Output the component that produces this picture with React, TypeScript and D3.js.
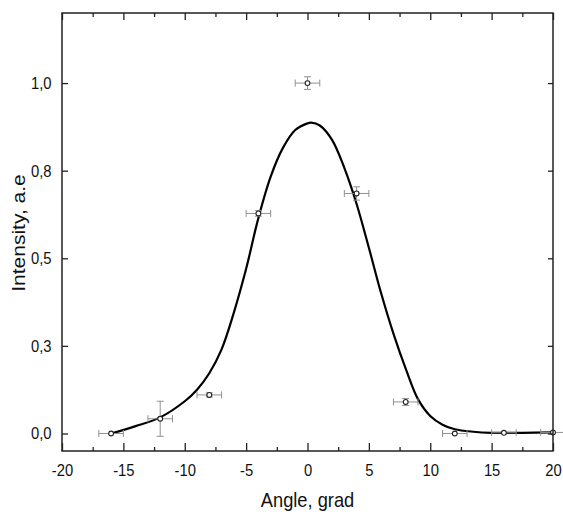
import React, { useRef, useEffect } from "react";
import * as d3 from "d3";

// measured points
const angle = [-16, -12, -8, -4, 0, 4, 8, 12, 16, 20];
const intensity = [0.0, 0.042, 0.11, 0.628, 1.0, 0.685, 0.09, 0.0, 0.002, 0.003];
const angleErr = [1, 1, 1, 1, 1, 1, 1, 1, 1, 1];
const intensityErr = [0, 0.05, 0.006, 0.008, 0.018, 0.019, 0.01, 0, 0, 0];

// fitted curve
const fitAngle = [-16, -14, -12, -10, -9, -8, -7, -6, -5, -4, -3, -2, -1, 0, 0.3, 1, 2, 3, 4, 5, 6, 7, 8, 9, 10, 11, 12, 13.5, 15, 17.5, 20];
const fitIntensity = [0, 0.021, 0.046, 0.092, 0.125, 0.172, 0.24, 0.345, 0.47, 0.615, 0.733, 0.815, 0.866, 0.885, 0.887, 0.879, 0.838, 0.758, 0.655, 0.53, 0.4, 0.285, 0.185, 0.098, 0.05, 0.025, 0.012, 0.005, 0.002, 0.002, 0.003];

const xTicks = [-20, -15, -10, -5, 0, 5, 10, 15, 20];
const xMinor = [-17.5, -12.5, -7.5, -2.5, 2.5, 7.5, 12.5, 17.5];
const yTicks = [0, 0.25, 0.5, 0.75, 1.0];

const W = 563;
const H = 515;
const FONT = "'Liberation Sans', Arial, sans-serif";
const SQ = 0.87; // glyphs in the original look a bit narrow

const Chart = () => {
  const ref = useRef<SVGSVGElement>(null);

  useEffect(() => {
    const svg = d3.select(ref.current);
    svg.selectAll("*").remove();

    const margin = { top: 13, right: 10, bottom: 64, left: 62 };
    const innerWidth = W - margin.left - margin.right;
    const innerHeight = H - margin.top - margin.bottom;

    const x = d3.scaleLinear().domain([-20, 20]).range([0, innerWidth]);
    const y = d3.scaleLinear().domain([-0.05, 1.2]).range([innerHeight, 0]);
    const fmt = (d: number) => d.toFixed(1).replace(".", ",");

    const g = svg.append("g").attr("transform", `translate(${margin.left},${margin.top})`);

    // curve
    const fit = fitAngle.map((a, i) => [a, fitIntensity[i]] as [number, number]);
    const line = d3
      .line<[number, number]>()
      .x((d) => x(d[0]))
      .y((d) => y(d[1]))
      .curve(d3.curveCatmullRom.alpha(0.5));
    g.append("path")
      .datum(fit)
      .attr("d", line)
      .attr("fill", "none")
      .attr("stroke", "#000")
      .attr("stroke-width", 2.2);

    // error bars
    const pts = angle.map((a, i) => ({ a, v: intensity[i], ea: angleErr[i], ev: intensityErr[i] }));
    const err = g.append("g").attr("stroke", "#909090").attr("stroke-width", 1).attr("fill", "none");
    pts.forEach((p) => {
      const cx = x(p.a), cy = y(p.v);
      const x0 = x(p.a - p.ea), x1 = x(p.a + p.ea);
      err.append("line").attr("x1", x0).attr("x2", x1).attr("y1", cy).attr("y2", cy);
      err.append("line").attr("x1", x0).attr("x2", x0).attr("y1", cy - 3.5).attr("y2", cy + 3.5);
      err.append("line").attr("x1", x1).attr("x2", x1).attr("y1", cy - 3.5).attr("y2", cy + 3.5);
      if (p.ev > 0) {
        const y0 = y(p.v - p.ev), y1 = y(p.v + p.ev);
        err.append("line").attr("x1", cx).attr("x2", cx).attr("y1", y0).attr("y2", y1);
        err.append("line").attr("x1", cx - 3.5).attr("x2", cx + 3.5).attr("y1", y0).attr("y2", y0);
        err.append("line").attr("x1", cx - 3.5).attr("x2", cx + 3.5).attr("y1", y1).attr("y2", y1);
      }
    });

    g.selectAll(".pt")
      .data(pts)
      .enter()
      .append("circle")
      .attr("class", "pt")
      .attr("cx", (d) => x(d.a))
      .attr("cy", (d) => y(d.v))
      .attr("r", 2.4)
      .attr("fill", "#fff")
      .attr("stroke", "#222")
      .attr("stroke-width", 1.1);

    // axes, ticks point inward
    const styleAxis = (sel: any) => {
      sel.select(".domain").remove();
      sel.selectAll("line").attr("stroke", "#222").attr("stroke-width", 1.3);
      sel.selectAll("text")
        .attr("font-family", FONT)
        .attr("font-size", 17)
        .attr("fill", "#111");
    };

    const bottom = g.append("g").attr("transform", `translate(0,${innerHeight})`)
      .call(d3.axisBottom(x).tickValues(xTicks).tickSize(-8).tickPadding(13).tickFormat((d: any) => String(d)));
    styleAxis(bottom);
    bottom.selectAll("text").attr("transform", `scale(${SQ},1)`);
    g.append("g").attr("transform", `translate(0,${innerHeight})`)
      .call(d3.axisBottom(x).tickValues(xMinor).tickSize(-4).tickFormat(() => ""))
      .call(styleAxis);

    g.append("g")
      .call(d3.axisTop(x).tickValues(xTicks).tickSize(-7).tickFormat(() => ""))
      .call(styleAxis);
    g.append("g")
      .call(d3.axisTop(x).tickValues(xMinor).tickSize(-4).tickFormat(() => ""))
      .call(styleAxis);

    const left = g.append("g")
      .call(d3.axisLeft(y).tickValues(yTicks).tickSize(-6).tickPadding(12).tickFormat((d: any) => fmt(d)));
    styleAxis(left);
    left.selectAll("text").attr("transform", `scale(${SQ},1)`);

    g.append("g").attr("transform", `translate(${innerWidth},0)`)
      .call(d3.axisRight(y).tickValues(yTicks).tickSize(-5).tickFormat(() => ""))
      .call(styleAxis);

    // frame
    g.append("rect")
      .attr("width", innerWidth)
      .attr("height", innerHeight)
      .attr("fill", "none")
      .attr("stroke", "#222")
      .attr("stroke-width", 1.5);

    // axis titles
    svg.append("text")
      .attr("transform", `translate(${margin.left + innerWidth / 2},${H - 8}) scale(${SQ},1)`)
      .attr("text-anchor", "middle")
      .attr("font-family", FONT)
      .attr("font-size", 21)
      .attr("fill", "#111")
      .text("Angle, grad");

    svg.append("text")
      .attr("transform", `translate(25,${233}) rotate(-90) scale(1,${SQ})`)
      .attr("text-anchor", "middle")
      .attr("font-family", FONT)
      .attr("font-size", 21)
      .attr("fill", "#111")
      .text("Intensity, a.e");
  }, []);

  return <svg ref={ref} width={W} height={H} style={{ position: "absolute", left: 0, top: 0, background: "#fff" }} />;
};

export default function App() {
  return <Chart />;
}
